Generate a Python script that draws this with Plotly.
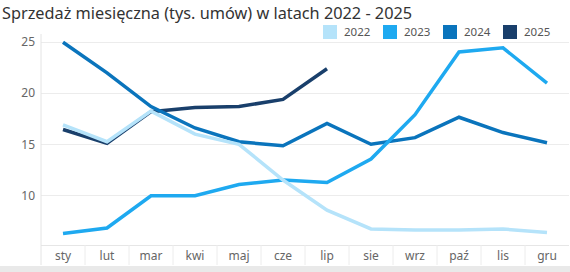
import plotly.graph_objects as go

months = ["sty", "lut", "mar", "kwi", "maj", "cze", "lip", "sie", "wrz", "paź", "lis", "gru"]
years = ["2022", "2023", "2024", "2025"]
v2022 = [16.9, 15.25, 18.25, 16.0, 15.0, 11.5, 8.55, 6.7, 6.6, 6.6, 6.7, 6.35]
v2023 = [6.25, 6.8, 9.95, 9.95, 11.05, 11.5, 11.25, 13.55, 17.9, 24.05, 24.45, 21.0]
v2024 = [25.0, 22.0, 18.7, 16.6, 15.25, 14.85, 17.05, 15.0, 15.65, 17.65, 16.15, 15.15]
v2025 = [16.45, 15.1, 18.2, 18.6, 18.7, 19.4, 22.4]
colors = ["#b5e3fa", "#1ea9f0", "#0a74bc", "#193f6b"]
series = [v2022, v2023, v2024, v2025]
title = "Sprzedaż miesięczna (tys. umów) w latach 2022 - 2025"
yticks = [10, 15, 20, 25]

W, H = 570, 272
ml, mr, mt, mb = 41, 1, 34, 27
ph = H - mt - mb
pw = W - ml - mr

fig = go.Figure()
for name, vals, col in reversed(list(zip(years, series, colors))):
    fig.add_trace(go.Scatter(
        x=months[:len(vals)], y=vals, mode="lines", name=name,
        line=dict(color=col, width=3.5), showlegend=False,
        hoverinfo="x+y+name",
    ))

font = "Noto Sans"
shapes = []
annotations = []

def py(pix):
    return (H - mb - pix) / ph

def px(pix):
    return (pix - ml) / pw

# legend swatches and labels
for i, (name, col) in enumerate(zip(years, colors)):
    x0 = 323 + 60 * i
    shapes.append(dict(type="rect", xref="paper", yref="paper",
                       x0=px(x0), x1=px(x0 + 14), y0=py(39), y1=py(25),
                       fillcolor=col, line=dict(width=0), layer="above"))
    annotations.append(dict(text=name, xref="paper", yref="paper",
                            x=px(x0 + 19), y=py(32), xanchor="left", yanchor="middle",
                            showarrow=False, font=dict(family=font, size=11.5, color="#555555")))

# header separators
for i in range(1, 12):
    shapes.append(dict(type="line", xref="x", yref="paper", x0=i - 0.5, x1=i - 0.5,
                       y0=py(265), y1=0, line=dict(color="#ececec", width=1)))
# left axis line
shapes.append(dict(type="line", xref="paper", yref="paper", x0=0, x1=0,
                   y0=py(265), y1=1, line=dict(color="#e4e4e4", width=1)))
# bottom band
shapes.append(dict(type="rect", xref="paper", yref="paper", x0=px(0), x1=px(W),
                   y0=py(272), y1=py(266), fillcolor="#e9e9e9", line=dict(width=0)))

fig.update_layout(
    width=W, height=H,
    margin=dict(l=ml, r=mr, t=mt, b=mb),
    paper_bgcolor="white", plot_bgcolor="white",
    title=dict(text=title, xref="container", yref="container", x=2 / W, xanchor="left",
               y=1 - 13 / H, yanchor="middle",
               font=dict(family=font, size=16.3, color="#333333")),
    xaxis=dict(type="category", categoryorder="array", categoryarray=months,
               range=[-0.5, 11.5], showgrid=False, showline=True, linecolor="#e6e6e6",
               zeroline=False, ticks="", tickfont=dict(family=font, size=12, color="#666666"),
               fixedrange=True),
    yaxis=dict(range=[5.13, 25.81], tickvals=yticks, showgrid=True, gridcolor="#ececec",
               gridwidth=1, zeroline=False, showline=False, ticks="",
               ticklabelstandoff=5,
               tickfont=dict(family=font, size=12, color="#666666"), fixedrange=True),
    shapes=shapes, annotations=annotations,
    showlegend=False,
)

fig.write_html("out.html")
